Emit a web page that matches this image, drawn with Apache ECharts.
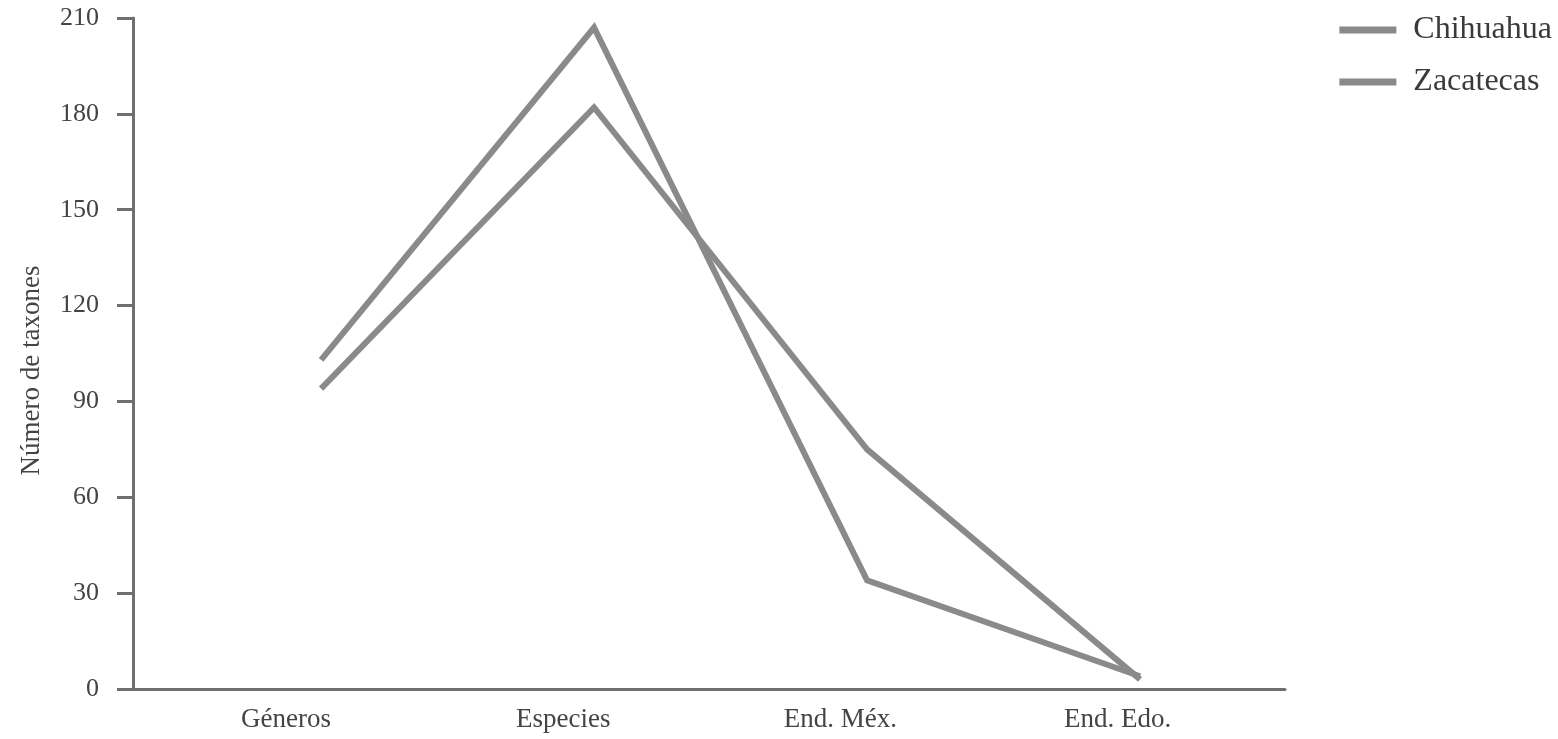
<!DOCTYPE html>
<html>
<head>
<meta charset="utf-8">
<script src="https://cdn.jsdelivr.net/npm/echarts@6/dist/echarts.min.js"></script>
<style>
  html, body { margin: 0; padding: 0; background: #fff; }
  #chart { width: 1558px; height: 739px; }
</style>
</head>
<body>
<div id="chart"></div>
<script>
var categories = ['Géneros', 'Especies', 'End. Méx.', 'End. Edo.'];
var chihuahua = [103, 207, 34, 4];
var zacatecas = [94, 182, 75, 3];
var yTicks = [0, 30, 60, 90, 120, 150, 180, 210];

var font = '"Liberation Serif", "DejaVu Serif", serif';
var lineColor = '#8a8a8a';
var axisColor = '#6f6f6f';

function toPoints(arr) {
    var out = [];
    for (var i = 0; i < arr.length; i++) {
        out.push([i, arr[i]]);
    }
    return out;
}

var chart = echarts.init(document.getElementById('chart'));
var option = {
    animation: false,
    backgroundColor: '#fff',
    textStyle: { fontFamily: font },
    grid: { left: 133, right: 273, top: 18, bottom: 50, containLabel: false },
    legend: {
        orient: 'vertical',
        right: 1,
        top: 9,
        icon: 'rect',
        itemWidth: 57,
        itemHeight: 7,
        itemGap: 20,
        textStyle: { fontFamily: font, fontSize: 32, color: '#3a3a3a', padding: [0, 0, 0, 12] },
        data: ['Chihuahua', 'Zacatecas']
    },
    xAxis: [
        {
            // eje de los datos
            type: 'value',
            min: -0.689,
            max: 3.531,
            axisLine: { show: true, onZero: false, lineStyle: { color: axisColor, width: 3 } },
            axisTick: { show: false },
            splitLine: { show: false },
            axisLabel: { show: false }
        },
        {
            // etiquetas de categorías (un poco desplazadas como en el original)
            type: 'value',
            position: 'bottom',
            min: -0.552,
            max: 3.604,
            axisLine: { show: false },
            axisTick: { show: false },
            splitLine: { show: false },
            axisLabel: {
                customValues: [0, 1, 2, 3],
                formatter: function (v) { return categories[Math.round(v)]; },
                fontFamily: font,
                fontSize: 27,
                color: '#444',
                margin: 17
            }
        }
    ],
    yAxis: {
        type: 'value',
        min: yTicks[0],
        max: yTicks[yTicks.length - 1],
        interval: 30,
        name: 'Número de taxones',
        nameLocation: 'middle',
        nameGap: 88,
        nameTextStyle: { fontFamily: font, fontSize: 27, color: '#444', padding: [0, 34, 0, 0] },
        axisLine: { show: true, onZero: false, lineStyle: { color: axisColor, width: 3 } },
        axisTick: { show: true, inside: false, length: 16, lineStyle: { color: axisColor, width: 3 } },
        splitLine: { show: false },
        axisLabel: { fontFamily: font, fontSize: 26, color: '#444', margin: 34 }
    },
    series: [
        {
            name: 'Chihuahua',
            type: 'line',
            xAxisIndex: 0,
            data: toPoints(chihuahua),
            symbol: 'none',
            itemStyle: { color: lineColor },
            lineStyle: { color: lineColor, width: 6, join: 'miter' }
        },
        {
            name: 'Zacatecas',
            type: 'line',
            xAxisIndex: 0,
            data: toPoints(zacatecas),
            symbol: 'none',
            itemStyle: { color: lineColor },
            lineStyle: { color: lineColor, width: 6, join: 'miter' }
        }
    ]
};
chart.setOption(option);
</script>
</body>
</html>
